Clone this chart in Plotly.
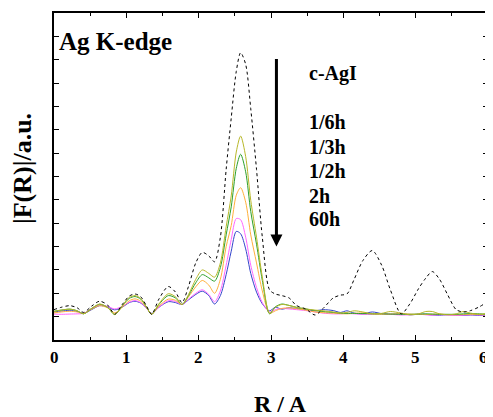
import plotly.graph_objects as go

# Shared R grid (Angstrom)
R = [0.00, 0.10, 0.22, 0.32, 0.41, 0.52, 0.63, 0.74, 0.84, 0.95, 1.04, 1.12, 1.20, 1.28, 1.35, 1.45,
     1.58, 1.68, 1.77, 1.86, 1.96, 2.05, 2.14, 2.22,
     2.30, 2.38, 2.45, 2.52, 2.58, 2.65, 2.72, 2.80, 2.88, 2.98,
     3.06, 3.15, 3.25, 3.35, 3.48, 3.61, 3.72, 3.86, 3.96, 4.05, 4.15, 4.27, 4.40, 4.53, 4.65,
     4.80, 4.92, 5.04, 5.14, 5.23, 5.33, 5.44, 5.56, 5.66, 5.76, 5.88, 6.00]

c_AgI = [0.30, 0.40, 0.47, 0.38, 0.18, 0.45, 0.66, 0.50, 0.11, 0.55, 0.88, 0.97, 0.85, 0.45, 0.10, 0.75,
         1.29, 1.05, 0.60, 1.30, 2.30, 2.75, 2.60, 2.35,
         3.40, 6.30, 8.50, 10.50, 11.30, 10.80, 8.90, 6.30, 3.40, 1.15,
         0.97, 0.90, 0.80, 0.48, 0.33, 0.07, 0.35, 0.80, 0.92, 0.97, 1.60, 2.40, 2.83, 2.20, 1.15,
         0.12, 0.55, 1.20, 1.65, 1.93, 1.60, 0.95, 0.30, 0.20, 0.26, 0.42, 0.65]

h_1_6 = [0.22, 0.28, 0.32, 0.25, 0.12, 0.35, 0.54, 0.40, 0.09, 0.50, 0.82, 0.90, 0.78, 0.40, 0.10, 0.55,
         0.98, 0.85, 0.52, 0.95, 1.60, 2.00, 1.85, 1.69,
         2.30, 3.85, 5.17, 7.05, 7.73, 6.85, 4.98, 3.40, 1.70, 0.15,
         0.40, 0.52, 0.48, 0.40, 0.33, 0.28, 0.25, 0.20, 0.16, 0.18, 0.25, 0.20, 0.12, 0.14, 0.22,
         0.15, 0.08, 0.12, 0.22, 0.22, 0.12, 0.08, 0.12, 0.22, 0.15, 0.10, 0.15]

h_1_3 = [0.23, 0.28, 0.32, 0.25, 0.12, 0.35, 0.53, 0.40, 0.09, 0.48, 0.78, 0.86, 0.75, 0.40, 0.10, 0.52,
         0.90, 0.80, 0.52, 0.90, 1.45, 1.80, 1.66, 1.52,
         2.10, 3.50, 4.70, 6.35, 6.95, 6.20, 4.50, 3.10, 1.55, 0.12,
         0.42, 0.54, 0.48, 0.40, 0.33, 0.26, 0.22, 0.18, 0.15, 0.14, 0.14, 0.13, 0.12, 0.12, 0.11,
         0.10, 0.10, 0.11, 0.12, 0.11, 0.10, 0.10, 0.10, 0.12, 0.13, 0.12, 0.10]

h_1_2 = [0.16, 0.20, 0.23, 0.20, 0.14, 0.32, 0.47, 0.38, 0.16, 0.42, 0.68, 0.76, 0.66, 0.38, 0.12, 0.45,
         0.75, 0.70, 0.52, 0.85, 1.28, 1.55, 1.35, 1.00,
         1.60, 3.00, 3.90, 5.20, 5.52, 4.90, 3.50, 2.30, 1.10, 0.14,
         0.25, 0.35, 0.38, 0.34, 0.28, 0.20, 0.17, 0.15, 0.13, 0.12, 0.14, 0.16, 0.12, 0.10, 0.11,
         0.13, 0.11, 0.10, 0.09, 0.10, 0.11, 0.09, 0.08, 0.09, 0.10, 0.09, 0.08]

h_2 = [0.11, 0.10, 0.11, 0.12, 0.14, 0.35, 0.50, 0.44, 0.33, 0.45, 0.62, 0.69, 0.60, 0.36, 0.12, 0.40,
       0.68, 0.65, 0.52, 0.75, 1.00, 1.15, 0.95, 0.64,
       1.10, 2.20, 3.30, 4.20, 4.15, 3.40, 2.20, 1.25, 0.60, 0.20,
       0.30, 0.35, 0.33, 0.30, 0.26, 0.20, 0.15, 0.12, 0.12, 0.14, 0.12, 0.10, 0.10, 0.12, 0.10,
       0.07, 0.08, 0.10, 0.08, 0.06, 0.08, 0.07, 0.05, 0.06, 0.08, 0.07, 0.06]

h_60 = [0.20, 0.24, 0.27, 0.22, 0.14, 0.30, 0.47, 0.42, 0.29, 0.42, 0.60, 0.66, 0.58, 0.36, 0.14, 0.40,
        0.64, 0.60, 0.52, 0.72, 0.95, 1.09, 0.90, 0.54,
        0.90, 1.80, 2.80, 3.65, 3.55, 2.90, 1.85, 1.05, 0.55, 0.25,
        0.40, 0.32, 0.38, 0.35, 0.30, 0.25, 0.30, 0.26, 0.18, 0.25, 0.15, 0.12, 0.20, 0.13, 0.10,
        0.12, 0.08, 0.10, 0.10, 0.07, 0.06, 0.08, 0.06, 0.05, 0.07, 0.05, 0.06]

series_names = ["c-AgI", "1/6h", "1/3h", "1/2h", "2h", "60h"]
series_values = [c_AgI, h_1_6, h_1_3, h_1_2, h_2, h_60]
series_colors = ["#000000", "#b8b82a", "#2ca02c", "#ffb03c", "#ff66ff", "#3344cc"]
series_dash = ["3px,3px", "solid", "solid", "solid", "solid", "solid"]

x_ticks = [0, 1, 2, 3, 4, 5, 6]

FONT = "Liberation Serif"

fig = go.Figure()
for name, vals, col, dash in reversed(list(zip(series_names, series_values, series_colors, series_dash))):
    fig.add_trace(go.Scatter(x=R, y=vals, mode="lines", name=name,
                             line=dict(color=col, width=1, dash=dash, shape="spline", smoothing=0.8),
                             showlegend=False))

# page body has an 8px margin, so the figure is sized/offset to compensate
fig.update_layout(
    width=485, height=409,
    margin=dict(l=46, r=5, t=5, b=77, autoexpand=False),
    paper_bgcolor="white", plot_bgcolor="white",
    font=dict(family=FONT, color="black"),
)
fig.update_xaxes(range=[0, 6], tickvals=x_ticks, showticklabels=False,
                 ticks="inside", ticklen=5, tickwidth=1.2, tickcolor="black",
                 minor=dict(dtick=0.5, ticks="inside", ticklen=3, tickcolor="black", tickwidth=1),
                 showline=True, linecolor="black", linewidth=1.5, mirror="ticks",
                 showgrid=False, zeroline=False, automargin=False)
fig.update_yaxes(range=[-1, 13], dtick=1, showticklabels=False,
                 ticks="inside", ticklen=5, tickwidth=1.2, tickcolor="black",
                 showline=True, linecolor="black", linewidth=1.5, mirror="ticks",
                 showgrid=False, zeroline=False, automargin=False)

# x tick labels (placed via the x scale; the last one nudged so it is not clipped at the edge)
for v in x_ticks:
    fig.add_annotation(text=f"<b>{v}</b>", xref="x", yref="paper", x=v, y=-0.052, showarrow=False,
                       xanchor="center", yanchor="middle", font=dict(size=17, family=FONT),
                       xshift=(-5 if v == max(x_ticks) else 0))

# Titles
fig.add_annotation(text="<b>R / A</b>", xref="paper", yref="paper", x=0.523, y=-0.196,
                   showarrow=False, font=dict(size=24, family=FONT), xanchor="center", yanchor="middle")
fig.add_annotation(text="<b>|F(R)|/a.u.</b>", xref="paper", yref="paper", x=-0.0714, y=0.523,
                   textangle=-90, showarrow=False, font=dict(size=26, family=FONT),
                   xanchor="center", yanchor="middle")

fig.add_annotation(text="<b>Ag K-edge</b>", xref="x", yref="y", x=0.04, y=11.76, showarrow=False,
                   xanchor="left", yanchor="middle", font=dict(size=25, family=FONT))

label_y = [10.39, 8.33, 7.25, 6.22, 5.15, 4.16]
for name, ly in zip(series_names, label_y):
    fig.add_annotation(text=f"<b>{name}</b>", xref="x", yref="y", x=3.50, y=ly, showarrow=False,
                       xanchor="left", yanchor="middle", font=dict(size=20, family=FONT))

# Arrow
fig.add_annotation(x=3.075, y=3.0, ax=3.075, ay=11.1, xref="x", yref="y", axref="x", ayref="y",
                   showarrow=True, arrowhead=2, arrowsize=0.8, arrowwidth=3, arrowcolor="black", text="")

fig.write_html("out.html")
